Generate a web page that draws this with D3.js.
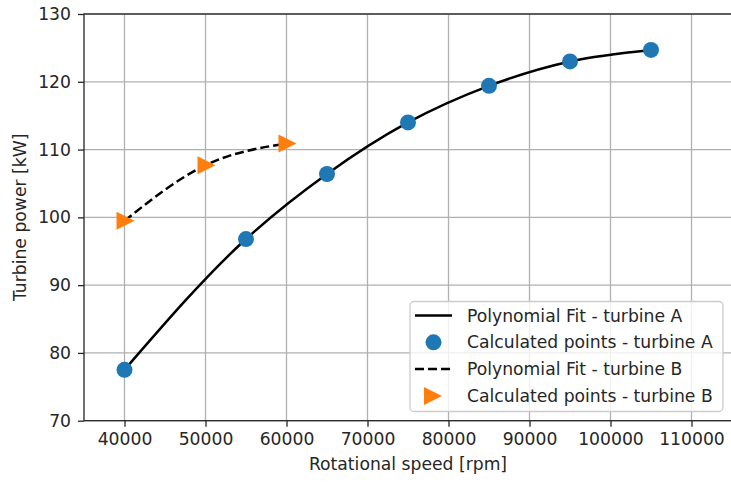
<!DOCTYPE html>
<html>
<head>
<meta charset="utf-8">
<script src="https://cdn.jsdelivr.net/npm/d3@7"></script>
<style>
  body { margin: 0; background: #fff; }
  text { font-family: "DejaVu Sans", sans-serif; fill: #262626; }
</style>
</head>
<body>
<svg width="731" height="482"></svg>
<script>
// data
const speedA = [40000, 55000, 65000, 75000, 85000, 95000, 105000];
const powerA = [77.5, 96.8, 106.4, 114.0, 119.4, 123.0, 124.7];
const speedB = [40000, 50000, 60000];
const powerB = [99.5, 107.7, 110.9];
const xTicks = [40000, 50000, 60000, 70000, 80000, 90000, 100000, 110000];
const yTicks = [70, 80, 90, 100, 110, 120, 130];
const legendLabels = ["Polynomial Fit - turbine A", "Calculated points - turbine A",
                      "Polynomial Fit - turbine B", "Calculated points - turbine B"];

const svg = d3.select("svg");
const plotL = 84, plotR = 732, plotT = 14, plotB = 420.7;
const fs = "17.2px";

const x = d3.scaleLinear().domain([35000, 115000]).range([plotL, plotR]);
const y = d3.scaleLinear().domain([70, 130]).range([plotB, plotT]);

const ptsA = speedA.map((s, i) => [s, powerA[i]]);
const ptsB = speedB.map((s, i) => [s, powerB[i]]);

// grid
svg.append("g").selectAll("line").data(xTicks).join("line")
  .attr("x1", d => x(d)).attr("x2", d => x(d))
  .attr("y1", plotT).attr("y2", plotB)
  .attr("stroke", "#b0b0b0").attr("stroke-width", 1.3);
svg.append("g").selectAll("line").data(yTicks).join("line")
  .attr("x1", plotL).attr("x2", plotR)
  .attr("y1", d => y(d)).attr("y2", d => y(d))
  .attr("stroke", "#b0b0b0").attr("stroke-width", 1.3);

// axes
const xAxis = svg.append("g").attr("transform", `translate(0,${plotB})`)
  .call(d3.axisBottom(x).tickValues(xTicks).tickFormat(d3.format("d")).tickSize(6).tickPadding(6));
const yAxis = svg.append("g").attr("transform", `translate(${plotL},0)`)
  .call(d3.axisLeft(y).tickValues(yTicks).tickSize(6).tickPadding(7));
[xAxis, yAxis].forEach(a => {
  a.selectAll("text").style("font-size", fs).attr("fill", "#262626");
  a.selectAll("line").attr("stroke", "#262626").attr("stroke-width", 1.3);
  a.select(".domain").remove();
});

// frame
svg.append("rect").attr("x", plotL).attr("y", plotT)
  .attr("width", plotR - plotL).attr("height", plotB - plotT)
  .attr("fill", "none").attr("stroke", "#262626").attr("stroke-width", 1.3);

// curves
const line = d3.line().x(d => x(d[0])).y(d => y(d[1])).curve(d3.curveMonotoneX);
svg.append("path").attr("d", line(ptsA))
  .attr("fill", "none").attr("stroke", "#000").attr("stroke-width", 2.5);
svg.append("path").attr("d", line(ptsB))
  .attr("fill", "none").attr("stroke", "#000").attr("stroke-width", 2.5)
  .attr("stroke-dasharray", "9,4");

// markers
svg.append("g").selectAll("circle").data(ptsA).join("circle")
  .attr("cx", d => x(d[0])).attr("cy", d => y(d[1])).attr("r", 8)
  .attr("fill", "#1f77b4");
const tri = "M-8,-9L10,0L-8,9Z";
svg.append("g").selectAll("path").data(ptsB).join("path")
  .attr("transform", d => `translate(${x(d[0])},${y(d[1])})`)
  .attr("d", tri).attr("fill", "#ff7f0e");

// axis labels
svg.append("text").attr("x", 408).attr("y", 469.5)
  .attr("text-anchor", "middle").style("font-size", fs).text("Rotational speed [rpm]");
svg.append("text").attr("transform", `translate(26,${(plotT + plotB) / 2}) rotate(-90)`)
  .attr("text-anchor", "middle").style("font-size", fs).text("Turbine power [kW]");

// legend
const lg = svg.append("g").attr("transform", "translate(410,301.5)");
lg.append("rect").attr("width", 313).attr("height", 110).attr("rx", 4)
  .attr("fill", "#fff").attr("fill-opacity", 0.8)
  .attr("stroke", "#cccccc").attr("stroke-width", 1.3);
const rows = lg.selectAll("g.row").data(legendLabels).join("g")
  .attr("class", "row")
  .attr("transform", (d, i) => `translate(0,${14 + i * 26.8})`);
rows.append("text").attr("x", 57).attr("dy", "0.35em")
  .style("font-size", fs).text(d => d);
rows.filter((d, i) => i === 0 || i === 2).append("line")
  .attr("x1", 5).attr("x2", 42)
  .attr("stroke", "#000").attr("stroke-width", 2.5)
  .attr("stroke-dasharray", (d, i) => i === 1 ? "9,4" : null);
rows.filter((d, i) => i === 1).append("circle")
  .attr("cx", 23.5).attr("r", 8).attr("fill", "#1f77b4");
rows.filter((d, i) => i === 3).append("path")
  .attr("transform", "translate(22,0)").attr("d", tri).attr("fill", "#ff7f0e");
</script>
</body>
</html>
